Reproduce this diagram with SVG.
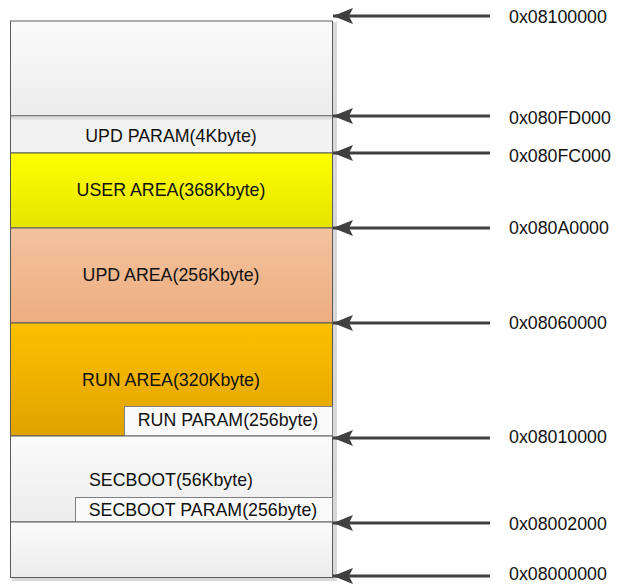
<svg xmlns="http://www.w3.org/2000/svg" width="617" height="585" viewBox="0 0 617 585">
<style>
.t{font-family:"Liberation Sans",Arial,sans-serif;font-size:17.8px;fill:#111}
.bx{stroke:#5a5a5a;stroke-width:1}
.ar{stroke:#404040;stroke-width:3;fill:none}
</style>
<defs>
<linearGradient id="gW" x1="0" y1="0" x2="0" y2="1"><stop offset="0" stop-color="#fbfbfb"/><stop offset="1" stop-color="#ececec"/></linearGradient>
<linearGradient id="gY" x1="0" y1="0" x2="0" y2="1"><stop offset="0" stop-color="#ffff00"/><stop offset="1" stop-color="#e4e400"/></linearGradient>
<linearGradient id="gP" x1="0" y1="0" x2="0" y2="1"><stop offset="0" stop-color="#f3c39f"/><stop offset="1" stop-color="#edad7f"/></linearGradient>
<linearGradient id="gO" x1="0" y1="0" x2="0" y2="1"><stop offset="0" stop-color="#ffc000"/><stop offset="1" stop-color="#dea300"/></linearGradient>
<marker id="ah" markerWidth="22" markerHeight="18" refX="21" refY="9" orient="auto" markerUnits="userSpaceOnUse">
<path d="M21,9 L1,1 L5,9 L1,17 Z" fill="#404040"/>
</marker>
</defs>
<rect x="333" y="22" width="4" height="559" fill="#d8d8d8"/>
<rect x="12" y="578" width="325" height="3" fill="#d8d8d8"/>
<g id="n-top"><rect class="bx" x="10.5" y="21" width="322" height="95" fill="url(#gW)"/></g>
<g id="n-updparam"><rect class="bx" x="10.5" y="116" width="322" height="37" fill="#f2f2f2"/><rect x="11" y="116.5" width="321" height="3" fill="#dcdcdc"/><text class="t" x="171" y="142" text-anchor="middle">UPD PARAM(4Kbyte)</text></g>
<g id="n-user"><rect class="bx" x="10.5" y="153" width="322" height="75" fill="url(#gY)"/><text class="t" x="171" y="196" text-anchor="middle">USER AREA(368Kbyte)</text></g>
<g id="n-upd"><rect class="bx" x="10.5" y="228" width="322" height="95" fill="url(#gP)"/><text class="t" x="171" y="281" text-anchor="middle">UPD AREA(256Kbyte)</text></g>
<g id="n-run"><rect class="bx" x="10.5" y="323" width="322" height="113" fill="url(#gO)"/><text class="t" x="171" y="386" text-anchor="middle">RUN AREA(320Kbyte)</text></g>
<g id="n-runparam"><rect x="126" y="408" width="207" height="30" fill="#c8c8c8" opacity="0.6"/><rect x="124.5" y="406.5" width="208" height="29.5" fill="#fafafa" stroke="#808080"/><text class="t" x="228" y="426" text-anchor="middle">RUN PARAM(256byte)</text></g>
<g id="n-secboot"><rect class="bx" x="10.5" y="436" width="322" height="86" fill="url(#gW)"/><text class="t" x="171" y="486" text-anchor="middle">SECBOOT(56Kbyte)</text></g>
<g id="n-secbootparam"><rect x="77" y="499" width="256" height="25" fill="#c8c8c8" opacity="0.6"/><rect x="75.5" y="497.5" width="257" height="24.5" fill="#fafafa" stroke="#808080"/><text class="t" x="203" y="516" text-anchor="middle">SECBOOT PARAM(256byte)</text></g>
<g id="n-bottom"><rect class="bx" x="10.5" y="522" width="322" height="55.5" fill="url(#gW)"/></g>
<g id="connectors">
<line class="ar" x1="490" y1="16" x2="333" y2="16" marker-end="url(#ah)"/>
<line class="ar" x1="490" y1="116" x2="333" y2="116" marker-end="url(#ah)"/>
<line class="ar" x1="490" y1="153" x2="333" y2="153" marker-end="url(#ah)"/>
<line class="ar" x1="490" y1="228" x2="333" y2="228" marker-end="url(#ah)"/>
<line class="ar" x1="490" y1="323" x2="333" y2="323" marker-end="url(#ah)"/>
<line class="ar" x1="490" y1="438" x2="333" y2="438" marker-end="url(#ah)"/>
<line class="ar" x1="490" y1="523" x2="333" y2="523" marker-end="url(#ah)"/>
<line class="ar" x1="490" y1="576" x2="333" y2="576" marker-end="url(#ah)"/>
</g>
<g id="labels">
<text class="t" x="509" y="23">0x08100000</text>
<text class="t" x="509" y="124">0x080FD000</text>
<text class="t" x="509" y="162">0x080FC000</text>
<text class="t" x="509" y="234">0x080A0000</text>
<text class="t" x="509" y="329">0x08060000</text>
<text class="t" x="509" y="443">0x08010000</text>
<text class="t" x="509" y="530">0x08002000</text>
<text class="t" x="509" y="580">0x08000000</text>
</g>
</svg>
